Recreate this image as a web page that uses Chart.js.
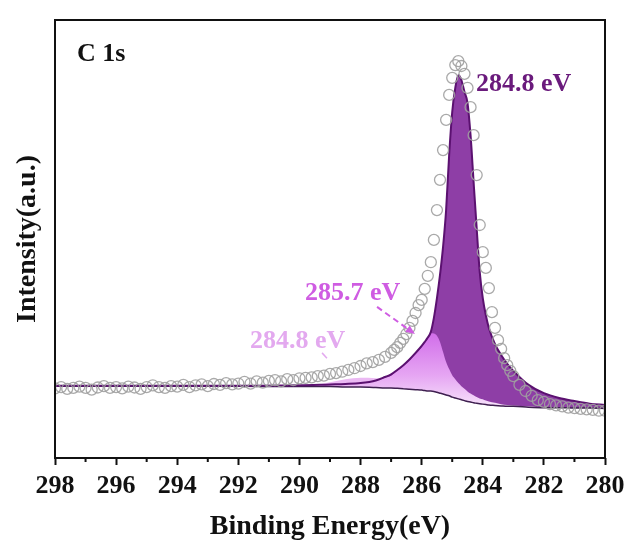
<!DOCTYPE html>
<html>
<head>
<meta charset="utf-8">
<script src="https://cdn.jsdelivr.net/npm/chart.js"></script>
<style>
  body { margin: 0; background: #ffffff; }
  #wrap { width: 630px; height: 548px; }
</style>
</head>
<body>
<div id="wrap"><canvas id="xps" width="630" height="548"></canvas></div>
<script>
// measured C 1s spectrum: binding energy (eV) and intensity (a.u.)
const rawEnergy = [
  298.0, 297.8, 297.6, 297.4, 297.2, 297.0, 296.8, 296.6, 296.4, 296.2,
  296.0, 295.8, 295.6, 295.4, 295.2, 295.0, 294.8, 294.6, 294.4, 294.2,
  294.0, 293.8, 293.6, 293.4, 293.2, 293.0, 292.8, 292.6, 292.4, 292.2,
  292.0, 291.8, 291.6, 291.4, 291.2, 291.0, 290.8, 290.6, 290.4, 290.2,
  290.0, 289.8, 289.6, 289.4, 289.2, 289.0, 288.8, 288.6, 288.4, 288.2,
  288.0, 287.8, 287.6, 287.4, 287.2, 287.0,
  286.9, 286.8, 286.7, 286.6, 286.5, 286.4, 286.3, 286.2, 286.1, 286.0,
  285.9, 285.8, 285.7, 285.6, 285.5, 285.4, 285.3, 285.2, 285.1, 285.0,
  284.9, 284.8, 284.7, 284.6, 284.5, 284.4, 284.3, 284.2, 284.1, 284.0,
  283.9, 283.8, 283.7, 283.6, 283.5, 283.4, 283.3, 283.2, 283.1, 283.0,
  282.8, 282.6, 282.4, 282.2, 282.0, 281.8, 281.6, 281.4, 281.2, 281.0,
  280.8, 280.6, 280.4, 280.2, 280.0
];
const rawCounts = [
  15.9, 16.2, 15.8, 16.0, 16.3, 16.0, 15.6, 16.1, 16.4, 16.0,
  16.2, 15.9, 16.3, 16.1, 15.8, 16.2, 16.6, 16.2, 16.0, 16.4,
  16.3, 16.7, 16.2, 16.6, 16.8, 16.4, 16.9, 16.7, 17.1, 16.8,
  17.0, 17.4, 17.0, 17.5, 17.2, 17.6, 17.8, 17.5, 18.0, 17.8,
  18.2, 18.3, 18.4, 18.7, 18.8, 19.2, 19.4, 19.7, 20.1, 20.5,
  21.0, 21.6, 21.9, 22.4, 23.1, 24.0,
  24.7, 25.3, 26.3, 27.2, 28.3, 29.7, 31.3, 33.1, 34.9, 36.1,
  38.6, 41.6, 44.7, 49.8, 56.6, 63.5, 70.3, 77.2, 82.9, 86.8,
  89.7, 90.6, 89.5, 87.7, 84.5, 80.1, 73.7, 64.6, 53.2, 47.0,
  43.4, 38.8, 33.3, 29.7, 26.9, 24.9, 22.8, 21.2, 19.9, 18.7,
  16.7, 15.3, 14.2, 13.2, 12.8, 12.3, 12.0, 11.8, 11.5, 11.4,
  11.2, 11.1, 11.0, 10.8, 10.8
];

// fit grid and components
const fitEnergy = [
  298, 296, 294, 292, 290, 289, 288.5, 288, 287.5, 287.2,
  287.0, 286.8, 286.6, 286.4, 286.2, 286.0, 285.9, 285.8, 285.7, 285.6,
  285.5, 285.4, 285.3, 285.2, 285.1, 285.0, 284.9, 284.8, 284.7, 284.6,
  284.5, 284.4, 284.3, 284.2, 284.1, 284.0, 283.9, 283.8, 283.6, 283.4,
  283.2, 283.0, 282.5, 282.0, 281.5, 281.0, 280.5, 280.0
];
const shirley = [
  16.4, 16.4, 16.4, 16.4, 16.3, 16.3, 16.2, 16.2, 16.1, 16.0,
  16.0, 15.9, 15.8, 15.7, 15.6, 15.5, 15.4, 15.3, 15.3, 15.2,
  15.0, 14.8, 14.6, 14.4, 14.2, 13.9, 13.7, 13.5, 13.3, 13.1,
  12.9, 12.8, 12.6, 12.5, 12.4, 12.3, 12.2, 12.1, 12.0, 11.9,
  11.8, 11.8, 11.6, 11.5, 11.5, 11.4, 11.4, 11.3
];
// 284.8 eV component
const peakMain = [
  16.5, 16.5, 16.5, 16.5, 16.6, 16.8, 16.9, 17.1, 17.7, 18.5,
  19.1, 20.1, 21.2, 22.5, 24.0, 25.6, 26.5, 27.5, 28.8, 32.0,
  36.5, 41.8, 48.2, 56.6, 69.2, 79.0, 84.5, 87.4, 86.3, 83.6,
  81.1, 73.7, 63.0, 52.5, 42.5, 36.5, 32.6, 29.7, 26.0, 23.5,
  21.5, 19.9, 16.7, 14.8, 13.7, 13.0, 12.4, 12.1
];
// 285.7 eV component
const peakMid = [
  16.4, 16.4, 16.4, 16.4, 16.4, 16.4, 16.5, 16.7, 17.5, 18.3,
  18.8, 19.9, 21.0, 22.3, 23.7, 25.3, 26.3, 27.3, 28.5, 28.4,
  27.9, 26.5, 24.2, 21.9, 20.3, 18.9, 18.0, 17.1, 16.4, 15.8,
  15.2, 14.7, 14.3, 13.9, 13.6, 13.4, 13.1, 12.9, 12.6, 12.3,
  12.1, 12.0, 11.8, 11.5, 11.5, 11.4, 11.4, 11.3
];
// small high-energy component
const peakHigh = [
  16.4, 16.4, 16.4, 16.4, 16.3, 17.3, 18.0, 18.3, 18.2, 17.6,
  17.0, 16.4, 16.0, 15.7, 15.6, 15.5, 15.4, 15.3, 15.3, 15.2,
  15.0, 14.8, 14.6, 14.4, 14.2, 13.9, 13.7, 13.5, 13.3, 13.1,
  12.9, 12.8, 12.6, 12.5, 12.4, 12.3, 12.2, 12.1, 12.0, 11.9,
  11.8, 11.8, 11.6, 11.5, 11.5, 11.4, 11.4, 11.3
];

const majorTicks = [298, 296, 294, 292, 290, 288, 286, 284, 282, 280];
const minorTicks = [297, 295, 293, 291, 289, 287, 285, 283, 281];

const serif = '"Liberation Serif", "Times New Roman", serif';

function pts(xs, ys) {
  return xs.map((x, i) => ({ x: x, y: ys[i] }));
}

// frame, minor ticks and peak labels
const decorations = {
  id: 'decorations',
  afterDraw(chart) {
    const { ctx, chartArea: a, scales: { x, y } } = chart;
    ctx.save();
    ctx.strokeStyle = '#111';
    ctx.lineWidth = 2;
    ctx.strokeRect(a.left, a.top, a.right - a.left, a.bottom - a.top);

    ctx.beginPath();
    minorTicks.forEach(v => {
      const px = x.getPixelForValue(v);
      ctx.moveTo(px, a.bottom);
      ctx.lineTo(px, a.bottom + 4);
    });
    ctx.stroke();

    ctx.textBaseline = 'middle';
    ctx.textAlign = 'left';
    ctx.fillStyle = '#111';
    ctx.font = 'bold 26px ' + serif;
    ctx.fillText('C 1s', a.left + 22, a.top + 34);

    const labels = [
      { text: '284.8 eV', e: 284.22, v: 85.4, color: '#6a1a7c' },
      { text: '285.7 eV', e: 289.82, v: 37.7, color: '#cf5ce2' },
      { text: '284.8 eV', e: 291.62, v: 26.7, color: '#e3a9ef' }
    ];
    ctx.font = 'bold 26px ' + serif;
    labels.forEach(l => {
      ctx.fillStyle = l.color;
      ctx.fillText(l.text, x.getPixelForValue(l.e), y.getPixelForValue(l.v));
    });

    // dashed arrow towards the 285.7 eV component
    const x0 = x.getPixelForValue(287.46), y0 = y.getPixelForValue(34.5);
    const x1 = x.getPixelForValue(286.22), y1 = y.getPixelForValue(28.3);
    const ang = Math.atan2(y1 - y0, x1 - x0);
    ctx.strokeStyle = '#cf5ce2';
    ctx.fillStyle = '#cf5ce2';
    ctx.lineWidth = 2;
    ctx.setLineDash([6, 4]);
    ctx.beginPath();
    ctx.moveTo(x0, y0);
    ctx.lineTo(x1 - 7 * Math.cos(ang), y1 - 7 * Math.sin(ang));
    ctx.stroke();
    ctx.setLineDash([]);
    ctx.beginPath();
    ctx.moveTo(x1, y1);
    ctx.lineTo(x1 - 10 * Math.cos(ang - 0.4), y1 - 10 * Math.sin(ang - 0.4));
    ctx.lineTo(x1 - 10 * Math.cos(ang + 0.4), y1 - 10 * Math.sin(ang + 0.4));
    ctx.closePath();
    ctx.fill();

    // short stroke under the small-peak label
    ctx.strokeStyle = '#e3a9ef';
    ctx.lineWidth = 1.5;
    ctx.beginPath();
    ctx.moveTo(x.getPixelForValue(289.26), y.getPixelForValue(24.0));
    ctx.lineTo(x.getPixelForValue(289.10), y.getPixelForValue(22.8));
    ctx.stroke();
    ctx.restore();
  }
};

function midGradient(context) {
  const chart = context.chart;
  if (!chart.chartArea) return '#d77cf0';
  const ys = chart.scales.y;
  const g = chart.ctx.createLinearGradient(0, ys.getPixelForValue(29), 0, ys.getPixelForValue(12));
  g.addColorStop(0, '#d06be9');
  g.addColorStop(0.6, '#e6a6f3');
  g.addColorStop(1, '#f6e0fa');
  return g;
}

new Chart(document.getElementById('xps'), {
  type: 'line',
  data: {
    datasets: [
      {
        // measured points
        data: pts(rawEnergy, rawCounts),
        showLine: false,
        pointRadius: 5.5,
        pointBorderWidth: 1.3,
        pointBorderColor: 'rgba(160,160,160,0.9)',
        pointBackgroundColor: 'rgba(255,255,255,0)'
      },
      {
        // outline of the 284.8 eV component
        data: pts(fitEnergy, peakMain),
        borderColor: '#5b1170',
        borderWidth: 2,
        pointRadius: 0,
        fill: false,
        cubicInterpolationMode: 'monotone'
      },
      {
        // Shirley background
        data: pts(fitEnergy, shirley),
        borderColor: '#3f2050',
        borderWidth: 1.5,
        pointRadius: 0,
        fill: false,
        cubicInterpolationMode: 'monotone'
      },
      {
        data: pts(fitEnergy, peakMid),
        borderWidth: 0,
        pointRadius: 0,
        backgroundColor: midGradient,
        fill: 2,
        cubicInterpolationMode: 'monotone'
      },
      {
        data: pts(fitEnergy, peakHigh),
        borderWidth: 0,
        pointRadius: 0,
        backgroundColor: '#ebb9f3',
        fill: 2,
        cubicInterpolationMode: 'monotone'
      },
      {
        data: pts(fitEnergy, peakMain),
        borderWidth: 0,
        pointRadius: 0,
        backgroundColor: '#8e3ea6',
        fill: 2,
        cubicInterpolationMode: 'monotone'
      }
    ]
  },
  options: {
    responsive: false,
    animation: false,
    layout: { padding: { left: 2, right: 25, top: 20, bottom: 3 } },
    plugins: { legend: { display: false }, tooltip: { enabled: false } },
    scales: {
      x: {
        type: 'linear',
        reverse: true,
        min: 280,
        max: 298,
        border: { display: false },
        grid: { display: true, drawOnChartArea: false, drawTicks: true, tickLength: 7, tickColor: '#111', tickWidth: 2 },
        afterBuildTicks: s => { s.ticks = majorTicks.map(v => ({ value: v })); },
        // end labels may hang into the page margin
        afterFit: s => { s.paddingLeft = 0; s.paddingRight = 0; },
        ticks: {
          color: '#111',
          autoSkip: false,
          maxRotation: 0,
          padding: 8,
          font: { family: serif, size: 26, weight: 'bold', lineHeight: 1.0 }
        },
        title: {
          display: true,
          text: 'Binding Energy(eV)',
          color: '#111',
          font: { family: serif, size: 28, weight: 'bold', lineHeight: 1.0 },
          padding: { top: 6, bottom: 4 }
        }
      },
      y: {
        min: 0,
        max: 100,
        border: { display: false },
        grid: { display: false },
        ticks: { display: false },
        title: {
          display: true,
          text: 'Intensity(a.u.)',
          color: '#111',
          font: { family: serif, size: 28, weight: 'bold', lineHeight: 1.0 },
          padding: { top: 12, bottom: 5 }
        }
      }
    }
  },
  plugins: [decorations]
});
</script>
</body>
</html>
